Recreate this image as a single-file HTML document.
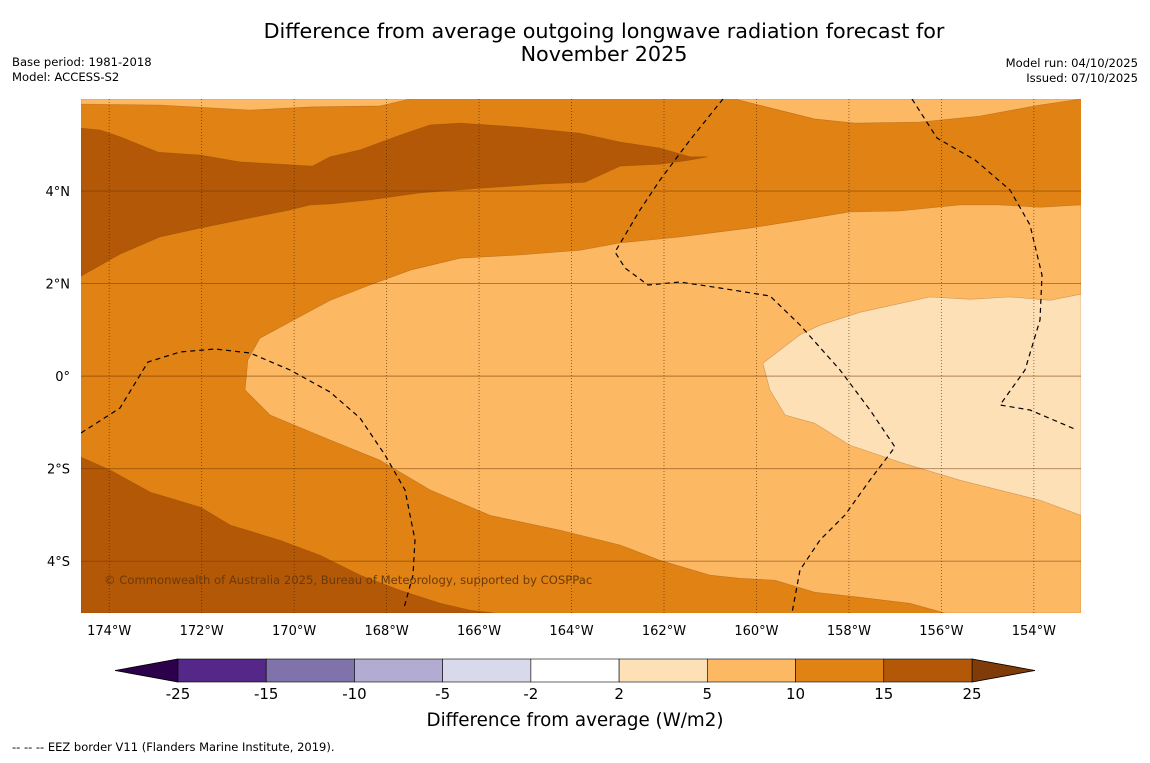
<!DOCTYPE html>
<html><head><meta charset="utf-8"><style>
body{margin:0;background:#fff;width:1150px;height:758px;overflow:hidden;font-family:"Liberation Sans","DejaVu Sans",sans-serif}
svg text{font-family:"DejaVu Sans","Liberation Sans",sans-serif}
</style></head><body>
<svg id="chart" width="1150" height="758" viewBox="0 0 1150 758" xmlns="http://www.w3.org/2000/svg">
<text x="604" y="38" font-size="20.7" text-anchor="middle" fill="#000">Difference from average outgoing longwave radiation forecast for</text>
<text x="604" y="61" font-size="20.7" text-anchor="middle" fill="#000">November 2025</text>
<text x="12" y="66" font-size="11.6">Base period: 1981-2018</text>
<text x="12" y="81" font-size="11.6">Model: ACCESS-S2</text>
<text x="1138" y="67" font-size="11.6" text-anchor="end">Model run: 04/10/2025</text>
<text x="1138" y="82" font-size="11.6" text-anchor="end">Issued: 07/10/2025</text>
<defs><clipPath id="mapclip"><rect x="81" y="99" width="1000" height="514"/></clipPath></defs>
<g id="map" clip-path="url(#mapclip)">
<rect x="81" y="99" width="1000" height="514" fill="#e08214"/>
</g>
<g id="axes"></g>
<g id="cbar"></g>
<text x="575" y="726" font-size="18.3" text-anchor="middle">Difference from average (W/m2)</text>
<text x="12" y="751" font-size="11.5">--  --  -- EEZ border V11 (Flanders Marine Institute, 2019).</text>
</svg>
<script>
const NS="http://www.w3.org/2000/svg";
const lonMin=-174.61, lonMax=-152.98, latMin=-5.12, latMax=5.99;
const X0=81,X1=1081,Y0=99,Y1=613;
function xs(lon){return X0+(lon-lonMin)/(lonMax-lonMin)*(X1-X0);}
function ys(lat){return Y0+(latMax-lat)/(latMax-latMin)*(Y1-Y0);}
const regionLightTopLeft=[[-174.61,5.99],[-167.49,5.99],[-168.14,5.84],[-169.65,5.82],[-170.95,5.75],[-172.90,5.86],[-174.61,5.88]];
const regionLightTopRight=[[-160.46,5.99],[-152.98,5.99],[-153.87,5.86],[-155.17,5.62],[-156.46,5.49],[-157.87,5.47],[-158.74,5.56],[-159.71,5.80]];
const regionDarkBand=[[-174.61,5.36],[-174.19,5.32],[-173.76,5.17],[-172.94,4.84],[-172.03,4.78],[-171.17,4.63],[-169.61,4.54],[-169.22,4.74],[-168.57,4.89],[-167.71,5.21],[-167.06,5.43],[-166.41,5.47],[-165.11,5.38],[-163.82,5.25],[-162.95,5.06],[-162.09,4.93],[-161.44,4.74],[-161.05,4.74],[-161.44,4.67],[-162.09,4.58],[-162.95,4.54],[-163.71,4.19],[-164.68,4.15],[-165.98,4.06],[-167.28,3.96],[-168.36,3.81],[-169.22,3.72],[-169.65,3.70],[-170.09,3.59],[-170.95,3.42],[-172.03,3.20],[-172.90,3.01],[-173.76,2.64],[-174.61,2.16]];
const regionLight=[[-170.74,0.82],[-170.09,1.17],[-169.22,1.64],[-168.36,1.97],[-167.49,2.29],[-166.41,2.55],[-165.11,2.62],[-163.82,2.72],[-162.95,2.88],[-161.65,3.01],[-160.14,3.20],[-159.06,3.37],[-157.98,3.55],[-156.90,3.57],[-155.60,3.70],[-154.74,3.70],[-153.87,3.65],[-152.98,3.70],[-152.98,-5.12],[-155.92,-5.12],[-156.68,-4.91],[-157.76,-4.78],[-158.74,-4.67],[-159.60,-4.41],[-160.36,-4.37],[-161.01,-4.30],[-162.09,-3.98],[-162.95,-3.65],[-164.25,-3.33],[-165.76,-3.01],[-167.06,-2.46],[-168.14,-1.82],[-169.22,-1.38],[-170.52,-0.84],[-171.06,-0.30],[-171.00,0.35]];
const regionLightest=[[-159.86,0.28],[-159.06,0.89],[-158.63,1.10],[-157.76,1.38],[-156.25,1.71],[-155.38,1.66],[-154.52,1.71],[-153.65,1.64],[-152.98,1.77],[-152.98,-3.01],[-153.87,-2.68],[-155.60,-2.25],[-156.90,-1.86],[-157.98,-1.49],[-158.74,-1.02],[-159.38,-0.84],[-159.71,-0.30]];
const regionDarkBottom=[[-174.61,-1.75],[-173.98,-2.03],[-173.11,-2.51],[-172.03,-2.83],[-171.38,-3.22],[-170.30,-3.55],[-169.44,-3.87],[-168.57,-4.30],[-167.71,-4.63],[-166.84,-4.91],[-166.19,-5.06],[-165.65,-5.12],[-174.61,-5.12]];
const regions=[[regionLightTopLeft,"#fdb863","contour-5-10-top-left"],[regionLightTopRight,"#fdb863","contour-5-10-top-right"],[regionDarkBand,"#b35806","contour-15-25-north"],[regionLight,"#fdb863","contour-5-10-central"],[regionLightest,"#fee0b6","contour-2-5-east"],[regionDarkBottom,"#b35806","contour-15-25-south"]];
const lonTicks=[-174,-172,-170,-168,-166,-164,-162,-160,-158,-156,-154];
const latTicks=[4,2,0,-2,-4];
const latLabels=["4°N","2°N","0°","2°S","4°S"];
const cbBounds=[-25,-15,-10,-5,-2,2,5,10,15,25];
const cbColors=["#542788","#8073ac","#b2abd2","#d8daeb","#ffffff","#fee0b6","#fdb863","#e08214","#b35806"];

const map=document.getElementById('map');
regions.forEach(r=>{
  const p=document.createElementNS(NS,'polygon');
  p.setAttribute('points',r[0].map(d=>xs(d[0]).toFixed(1)+','+ys(d[1]).toFixed(1)).join(' '));
  p.setAttribute('fill',r[1]);p.setAttribute('stroke','rgba(120,60,0,0.35)');p.setAttribute('stroke-width','0.6');
  
  
  map.appendChild(p);
});
const eez=["M81,433 L120,408 L148,362 L180,352 L215,349 L250,353 L290,370 L330,392 L360,418 L385,455 L405,490 L415,540 L413,575 L404,608",
"M723,99 L690,140 L660,180 L640,210 L615,252 L625,268 L648,285 L680,282 L720,288 L770,296 L800,325 L840,370 L870,410 L895,447 L870,480 L845,515 L820,540 L800,570 L792,613",
"M912,99 L937,138 L975,160 L1010,190 L1030,225 L1042,275 L1040,320 L1025,370 L1000,405 L1030,410 L1077,430"];
eez.forEach(d=>{const p=document.createElementNS(NS,'path');p.setAttribute('d',d);p.setAttribute('fill','none');p.setAttribute('stroke','#000');p.setAttribute('stroke-width','1.2');p.setAttribute('stroke-dasharray','5,4');


map.appendChild(p);});
lonTicks.forEach(l=>{const ln=document.createElementNS(NS,'line');const x=xs(l);ln.setAttribute('x1',x);ln.setAttribute('x2',x);ln.setAttribute('y1',Y0);ln.setAttribute('y2',Y1);ln.setAttribute('stroke','rgba(60,30,0,0.7)');ln.setAttribute('stroke-width','0.8');ln.setAttribute('stroke-dasharray','1,2');


map.appendChild(ln);});
latTicks.forEach(l=>{const ln=document.createElementNS(NS,'line');const y=ys(l);ln.setAttribute('x1',X0);ln.setAttribute('x2',X1);ln.setAttribute('y1',y);ln.setAttribute('y2',y);ln.setAttribute('stroke','rgba(110,50,0,0.55)');ln.setAttribute('stroke-width','0.9');


map.appendChild(ln);});
const cr=document.createElementNS(NS,'text');cr.setAttribute('x',104);cr.setAttribute('y',584);cr.setAttribute('font-size','11.6');cr.setAttribute('fill','#6b3a08');cr.textContent='© Commonwealth of Australia 2025, Bureau of Meteorology, supported by COSPPac';


map.appendChild(cr);
const ax=document.getElementById('axes');
lonTicks.forEach(l=>{const t=document.createElementNS(NS,'text');t.setAttribute('x',xs(l));t.setAttribute('y',635);t.setAttribute('font-size','13');t.setAttribute('text-anchor','middle');t.textContent=Math.abs(l)+'°W';


ax.appendChild(t);});
latTicks.forEach((l,i)=>{const t=document.createElementNS(NS,'text');t.setAttribute('x',70);t.setAttribute('y',ys(l)+5);t.setAttribute('font-size','13');t.setAttribute('text-anchor','end');t.textContent=latLabels[i];


ax.appendChild(t);});
const cb=document.getElementById('cbar');
const cbX0=178,cbX1=972,cbY=659,cbH=23;
function cx(i){return cbX0+i*(cbX1-cbX0)/(cbBounds.length-1);}
const lt=document.createElementNS(NS,'polygon');lt.setAttribute('points',`115,670.5 ${cbX0},${cbY} ${cbX0},${cbY+cbH}`);lt.setAttribute('fill','#2d004b');lt.setAttribute('stroke','#000');lt.setAttribute('stroke-width','0.8');


cb.appendChild(lt);
const rt=document.createElementNS(NS,'polygon');rt.setAttribute('points',`1035,670.5 ${cbX1},${cbY} ${cbX1},${cbY+cbH}`);rt.setAttribute('fill','#7f3b08');rt.setAttribute('stroke','#000');rt.setAttribute('stroke-width','0.8');


cb.appendChild(rt);
cbColors.forEach((c,i)=>{const r=document.createElementNS(NS,'rect');r.setAttribute('x',cx(i));r.setAttribute('y',cbY);r.setAttribute('width',cx(i+1)-cx(i));r.setAttribute('height',cbH);r.setAttribute('fill',c);r.setAttribute('stroke','#000');r.setAttribute('stroke-width','0.6');


cb.appendChild(r);});
cbBounds.forEach((b,i)=>{const t=document.createElementNS(NS,'text');t.setAttribute('x',cx(i));t.setAttribute('y',699);t.setAttribute('font-size','15');t.setAttribute('text-anchor','middle');t.textContent=b;


cb.appendChild(t);});
</script>
</body></html>
